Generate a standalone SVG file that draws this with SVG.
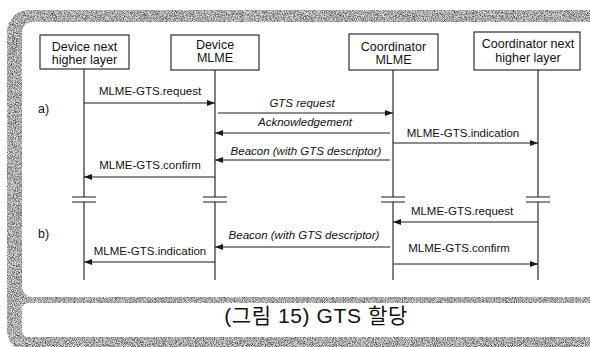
<svg xmlns="http://www.w3.org/2000/svg" width="590" height="347" viewBox="0 0 590 347">
<defs>
<style>
.box{fill:#fff;stroke:#1a1a1a;stroke-width:1.1}
.life{stroke:#1a1a1a;stroke-width:1.1;fill:none}
.msg{stroke:#1a1a1a;stroke-width:1;fill:none;marker-end:url(#ah)}
.bar{stroke:#1a1a1a;stroke-width:1.1}
.hd{font-family:"Liberation Sans",Arial,sans-serif;font-size:12.5px;fill:#111;text-anchor:middle}
.lb{font-family:"Liberation Sans",Arial,sans-serif;font-size:11.5px;fill:#111;text-anchor:middle}
.it{font-style:italic}
.side{font-family:"Liberation Sans",Arial,sans-serif;font-size:12.5px;fill:#111}
.cap{font-family:"Liberation Sans","Noto Sans CJK KR",sans-serif;font-size:21px;letter-spacing:0.6px;fill:#111;text-anchor:middle}
.frame{fill:#dcdcdc;filter:url(#grain)}
</style>
<marker id="ah" markerUnits="userSpaceOnUse" markerWidth="9" markerHeight="7" refX="8" refY="3" orient="auto">
<path d="M0,0 L8,3 L0,6 z" fill="#1a1a1a"/>
</marker>
<filter id="grain" x="0" y="0" width="100%" height="100%" color-interpolation-filters="sRGB">
<feTurbulence type="fractalNoise" baseFrequency="1.1" numOctaves="2" seed="4" result="n"/>
<feColorMatrix in="n" type="matrix" values="0 0 0 0 0  0 0 0 0 0  0 0 0 0 0  1.5 0 0 0 -0.52" result="dots"/>
<feComposite in="dots" in2="SourceAlpha" operator="in" result="d2"/>
<feMerge><feMergeNode in="SourceGraphic"/><feMergeNode in="d2"/></feMerge>
</filter>
</defs>
<rect x="0" y="0" width="590" height="347" fill="#fff"/>
<g id="frame">
<path class="frame" fill-rule="evenodd" d="M29,10 H600 V352 H29 A22,22 0 0 1 7,330 V32 A22,22 0 0 1 29,10 Z M32,22 H600 V297 H32 A10,10 0 0 1 22,287 V32 A10,10 0 0 1 32,22 Z M28,303 H600 V337 H28 A6,6 0 0 1 22,331 V309 A6,6 0 0 1 28,303 Z"/>
</g>
<g id="n-device-nhl">
<rect class="box" x="40" y="35" width="89" height="34"/>
<text class="hd" x="84.5" y="51">Device next</text>
<text class="hd" x="84.5" y="64">higher layer</text>
</g>
<g id="n-device-mlme">
<rect class="box" x="171" y="35" width="88" height="35"/>
<text class="hd" x="215" y="49">Device</text>
<text class="hd" x="215" y="62">MLME</text>
</g>
<g id="n-coord-mlme">
<rect class="box" x="349" y="34" width="89" height="36"/>
<text class="hd" x="393.5" y="51">Coordinator</text>
<text class="hd" x="393.5" y="64">MLME</text>
</g>
<g id="n-coord-nhl">
<rect class="box" x="474" y="32" width="106" height="38"/>
<text class="hd" x="528" y="48">Coordinator next</text>
<text class="hd" x="528" y="62">higher layer</text>
</g>
<g id="lifelines">
<path class="life" d="M84,69 V197 M84,202 V280 M215,70 V197 M215,202 V280 M393,70 V197 M393,202 V280 M538,70 V197 M538,202 V280"/>
<path class="bar" d="M72,197 H96 M72,202 H96 M203,197 H227 M203,202 H227 M381,197 H405 M381,202 H405 M526,197 H550 M526,202 H550"/>
</g>
<g id="phase-labels">
<text class="side" x="38" y="113">a)</text>
<text class="side" x="38" y="238">b)</text>
</g>
<g id="connectors">
<line class="msg" x1="84" y1="103" x2="215" y2="103"/>
<text class="lb" x="150" y="95">MLME-GTS.request</text>
<line class="msg" x1="218" y1="113" x2="393" y2="113"/>
<text class="lb it" x="302" y="107">GTS request</text>
<line class="msg" x1="390" y1="133" x2="215" y2="133"/>
<text class="lb it" x="305" y="126">Acknowledgement</text>
<line class="msg" x1="393" y1="143" x2="538" y2="143"/>
<text class="lb" x="463" y="137">MLME-GTS.indication</text>
<line class="msg" x1="390" y1="160" x2="215" y2="160"/>
<text class="lb it" x="306" y="155">Beacon (with GTS descriptor)</text>
<line class="msg" x1="215" y1="177" x2="84" y2="177"/>
<text class="lb" x="150" y="169">MLME-GTS.confirm</text>
<line class="msg" x1="538" y1="222" x2="393" y2="222"/>
<text class="lb" x="462" y="215">MLME-GTS.request</text>
<line class="msg" x1="390" y1="247" x2="215" y2="247"/>
<text class="lb it" x="304" y="239">Beacon (with GTS descriptor)</text>
<line class="msg" x1="215" y1="262" x2="84" y2="262"/>
<text class="lb" x="150" y="255">MLME-GTS.indication</text>
<line class="msg" x1="393" y1="264" x2="538" y2="264"/>
<text class="lb" x="459" y="252">MLME-GTS.confirm</text>
</g>
<g id="caption">
<text class="cap" x="316" y="323">(그림 15) GTS 할당</text>
</g>
</svg>
